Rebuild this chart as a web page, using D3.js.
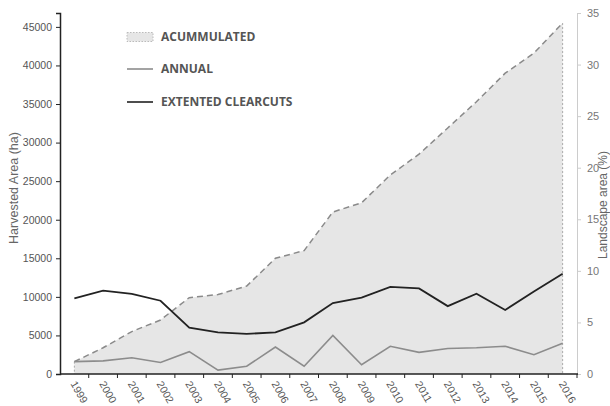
<!DOCTYPE html>
<html>
<head>
<meta charset="utf-8">
<script src="https://cdn.jsdelivr.net/npm/d3@7"></script>
<style>
  body { margin: 0; background: #fff; }
  svg { display: block; font-family: "Liberation Sans", Arial, sans-serif; }
</style>
</head>
<body>
<div id="chart"></div>
<script>
const years = ["1999","2000","2001","2002","2003","2004","2005","2006","2007","2008",
               "2009","2010","2011","2012","2013","2014","2015","2016"];
const accumulated = [1600, 3400, 5500, 7000, 9900, 10300, 11400, 15000, 16000, 21000,
                     22200, 25800, 28500, 31900, 35300, 39000, 41600, 45500];
const annual = [1600, 1700, 2100, 1500, 2900, 500, 1000, 3500, 1000, 5000,
                1200, 3600, 2800, 3300, 3400, 3600, 2500, 4000];
const clearcuts = [9800, 10800, 10400, 9500, 6000, 5400, 5200, 5400, 6700, 9200,
                   9900, 11300, 11100, 8800, 10400, 8300, 10700, 13000];
const leftTicks = [0, 5000, 10000, 15000, 20000, 25000, 30000, 35000, 40000, 45000];
const rightTicks = [0, 5, 10, 15, 20, 25, 30, 35];
const legendItems = ["ACUMMULATED", "ANNUAL", "EXTENTED CLEARCUTS"];

const width = 610;
const height = 406;
const marginTop = 13;
const marginRight = 33;
const marginBottom = 32;
const marginLeft = 60;

const svg = d3.select("#chart").append("svg")
    .attr("width", width)
    .attr("height", height);

const x = d3.scaleBand()
    .domain(years)
    .range([marginLeft, width - marginRight]);

const y = d3.scaleLinear()
    .domain([0, 46800])
    .range([height - marginBottom, marginTop]);

const yRight = d3.scaleLinear()
    .domain([0, 35])
    .range([height - marginBottom, marginTop]);

const cx = d => x(d) + x.bandwidth() / 2;

// accumulated area
const area = d3.area()
    .x((d, i) => cx(years[i]))
    .y0(y(0))
    .y1(d => y(d));

svg.append("path")
    .datum(accumulated)
    .attr("fill", "#e6e6e6")
    .attr("d", area);

const line = d3.line()
    .x((d, i) => cx(years[i]))
    .y(d => y(d));

svg.append("path")
    .datum(accumulated)
    .attr("fill", "none")
    .attr("stroke", "#8a8a8a")
    .attr("stroke-width", 1.5)
    .attr("stroke-dasharray", "6,4")
    .attr("d", line);

// dotted edges of the area
[0, years.length - 1].forEach(i => {
    svg.append("line")
        .attr("x1", cx(years[i])).attr("x2", cx(years[i]))
        .attr("y1", y(accumulated[i])).attr("y2", y(0))
        .attr("stroke", "#aaa")
        .attr("stroke-width", 1)
        .attr("stroke-dasharray", "2,2");
});

svg.append("path")
    .datum(annual)
    .attr("fill", "none")
    .attr("stroke", "#8c8c8c")
    .attr("stroke-width", 1.6)
    .attr("d", line);

svg.append("path")
    .datum(clearcuts)
    .attr("fill", "none")
    .attr("stroke", "#222")
    .attr("stroke-width", 1.8)
    .attr("d", line);

// right axis
const gRight = svg.append("g")
    .attr("transform", `translate(${width - marginRight},0)`)
    .call(d3.axisRight(yRight).tickValues(rightTicks).tickSize(4).tickPadding(6));
gRight.select(".domain").attr("stroke", "#ccc");
gRight.selectAll(".tick line").attr("stroke", "#ccc");
gRight.selectAll("text").attr("fill", "#777").attr("font-size", 11);

// left axis
const gLeft = svg.append("g")
    .attr("transform", `translate(${marginLeft},0)`)
    .call(d3.axisLeft(y).tickValues(leftTicks).tickFormat(d3.format("d")).tickSize(4).tickPadding(4));
gLeft.select(".domain").attr("stroke", "#222").attr("stroke-width", 1.5);
gLeft.selectAll(".tick line").attr("stroke", "#222");
gLeft.selectAll("text").attr("fill", "#555").attr("font-size", 10.5);

// bottom axis, ticks at band boundaries
const gBottom = svg.append("g")
    .attr("transform", `translate(0,${height - marginBottom})`);
gBottom.append("line")
    .attr("x1", marginLeft).attr("x2", width - marginRight + 1)
    .attr("stroke", "#222").attr("stroke-width", 1.5);
gBottom.selectAll(".btick")
    .data(years)
    .join("line")
    .attr("x1", d => x(d) + x.bandwidth()).attr("x2", d => x(d) + x.bandwidth())
    .attr("y1", 0).attr("y2", 4)
    .attr("stroke", "#222");
gBottom.selectAll(".blabel")
    .data(years)
    .join("text")
    .attr("transform", d => `translate(${cx(d) - 1},${8}) rotate(60)`)
    .attr("dy", "0.35em")
    .attr("font-size", 10.5)
    .attr("fill", "#555")
    .text(d => d);

// axis titles
svg.append("text")
    .attr("transform", `translate(18,${188}) rotate(-90)`)
    .attr("text-anchor", "middle")
    .attr("font-size", 12.5)
    .attr("fill", "#666")
    .text("Harvested Area (ha)");

svg.append("text")
    .attr("transform", `translate(607,${205}) rotate(-90)`)
    .attr("text-anchor", "middle")
    .attr("font-size", 12)
    .attr("fill", "#666")
    .text("Landscape area (%)");

// legend
const legend = svg.append("g")
    .attr("transform", "translate(127,0)")
    .selectAll("g")
    .data(legendItems)
    .join("g")
    .attr("transform", (d, i) => `translate(0,${[37, 69, 102][i]})`);

legend.each(function (d, i) {
    const g = d3.select(this);
    if (i === 0) {
        g.append("rect")
            .attr("x", 0).attr("y", -4.5)
            .attr("width", 26).attr("height", 9)
            .attr("fill", "#e6e6e6")
            .attr("stroke", "#bbb")
            .attr("stroke-dasharray", "1.5,1.5");
    } else {
        g.append("line")
            .attr("x1", 0).attr("x2", 26)
            .attr("stroke", i === 1 ? "#8c8c8c" : "#222")
            .attr("stroke-width", 1.6);
    }
    g.append("text")
        .attr("x", 34)
        .attr("dy", "0.35em")
        .attr("font-family", "'Open Sans', sans-serif")
        .attr("font-weight", "bold")
        .attr("font-size", 12)
        .attr("fill", "#555")
        .text(d);
});
</script>
</body>
</html>
